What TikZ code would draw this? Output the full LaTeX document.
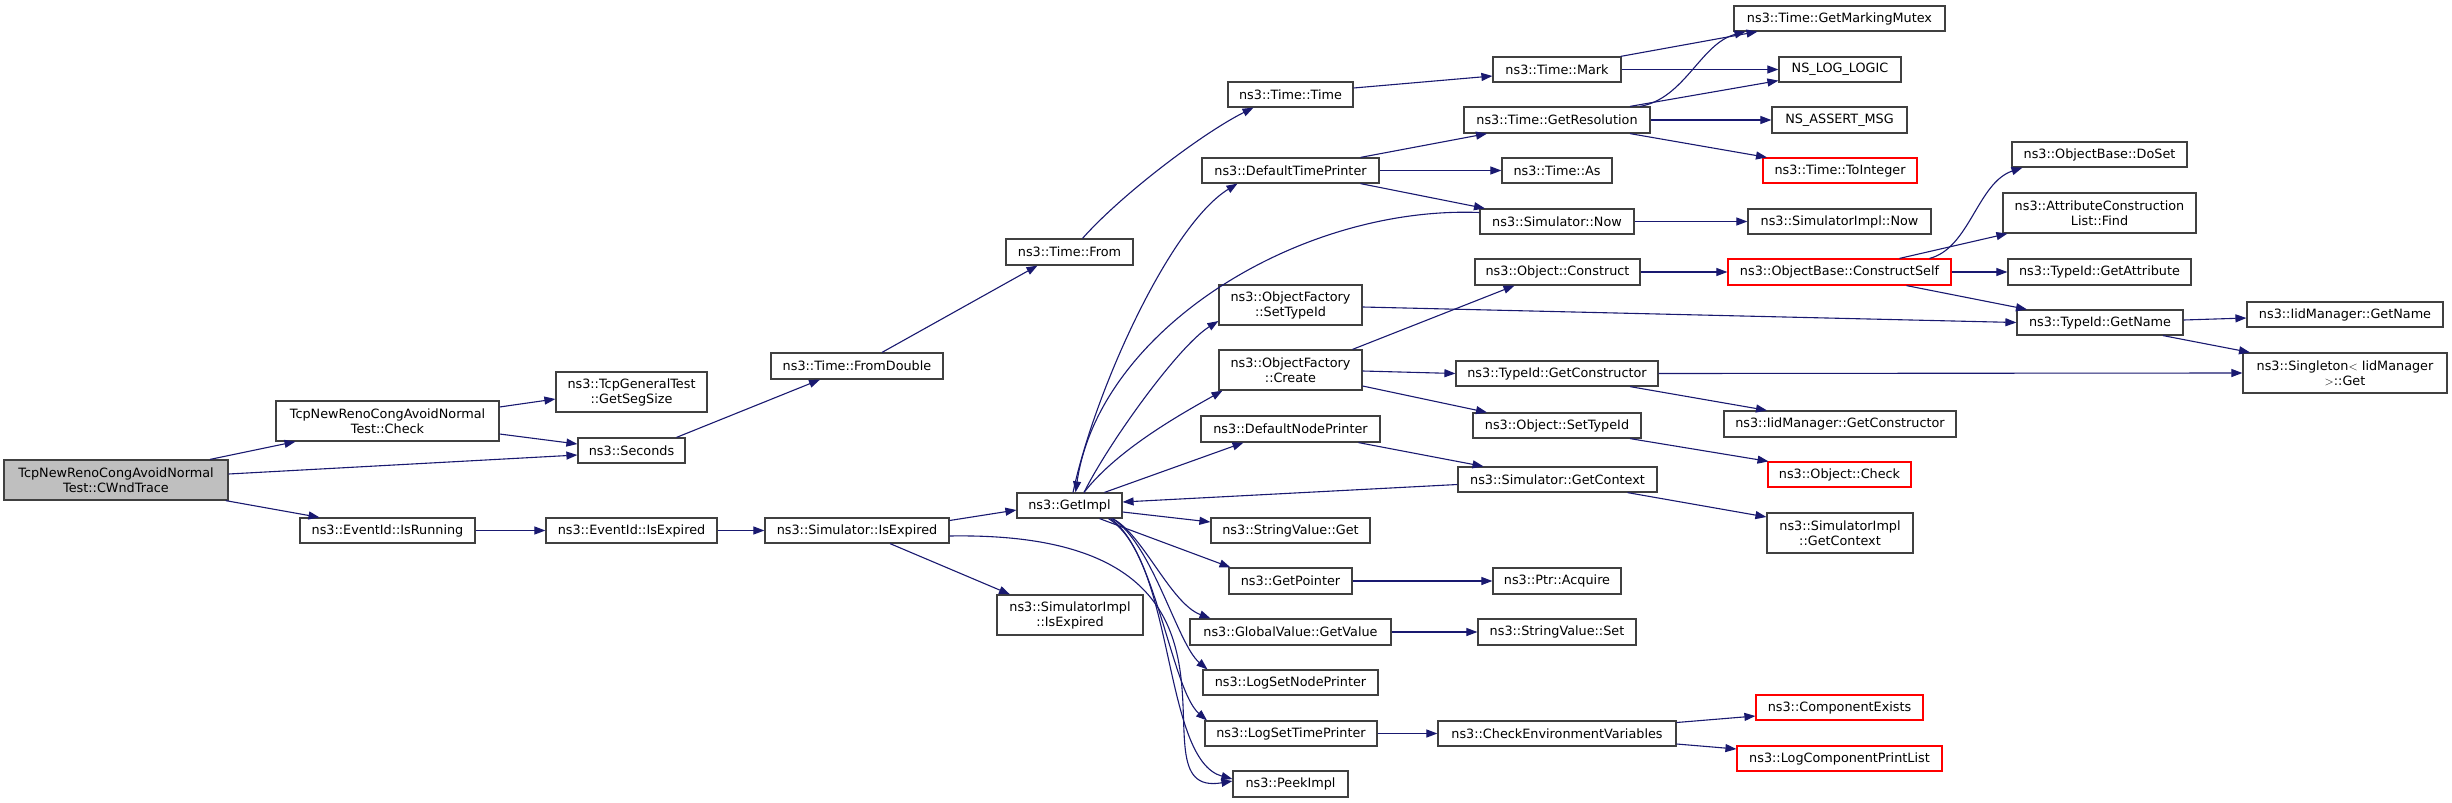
\documentclass[tikz,border=0pt]{standalone}
\usepackage{fontspec}
\newfontfamily\djv{DejaVu Sans}
\usetikzlibrary{arrows.meta}
\definecolor{edgeblue}{HTML}{191970}
\definecolor{boxline}{HTML}{404040}
\definecolor{rootfill}{HTML}{BFBFBF}
\definecolor{redline}{HTML}{FF0000}
\newcommand\gnode[7][]{\node[gbox,#1,minimum width={(#5-#3)*1pt},minimum height={(#6-#4)*1pt}] (#2) at ({(#3+#5)/2},{(#4+#6)/2}) {#7};}
\tikzset{
  gbox/.style={draw=boxline,fill=white,line width=1.2pt,inner sep=0pt,align=center,font=\djv\fontsize{12.8}{15}\selectfont},
  groot/.style={fill=rootfill},
  gred/.style={draw=redline},
  gedge/.style={draw=edgeblue,line width=1.1pt,-{Triangle[length=11pt,width=8pt]}}
}
\begin{document}
\begin{tikzpicture}[x=1pt,y=-1pt]
\useasboundingbox[fill=white] (0,0) rectangle (2452,803);
% nodes
\gnode[groot]{cwnd}{4}{460}{228}{500}{TcpNewRenoCongAvoidNormal\\Test::CWndTrace}
\gnode{check}{276}{401}{499}{441}{TcpNewRenoCongAvoidNormal\\Test::Check}
\gnode{segsize}{556}{372}{707}{412}{ns3::TcpGeneralTest\\::GetSegSize}
\gnode{seconds}{578}{438}{685}{463}{ns3::Seconds}
\gnode{isrunning}{300}{518}{475}{543}{ns3::EventId::IsRunning}
\gnode{evexp}{546}{518}{717}{543}{ns3::EventId::IsExpired}
\gnode{simexp}{765}{518}{949}{543}{ns3::Simulator::IsExpired}
\gnode{simimplexp}{997}{595}{1143}{635}{ns3::SimulatorImpl\\::IsExpired}
\gnode{fromdouble}{771}{353}{943}{379}{ns3::Time::FromDouble}
\gnode{from}{1006}{239}{1133}{265}{ns3::Time::From}
\gnode{ttime}{1228}{82}{1353}{107}{ns3::Time::Time}
\gnode{dtp}{1202}{158}{1379}{183}{ns3::DefaultTimePrinter}
\gnode{ofset}{1219}{285}{1362}{325}{ns3::ObjectFactory\\::SetTypeId}
\gnode{ofcreate}{1219}{350}{1362}{390}{ns3::ObjectFactory\\::Create}
\gnode{dnp}{1201}{416}{1380}{442}{ns3::DefaultNodePrinter}
\gnode{getimpl}{1017}{493}{1122}{518}{ns3::GetImpl}
\gnode{svget}{1211}{518}{1370}{543}{ns3::StringValue::Get}
\gnode{getptr}{1229}{568}{1352}{594}{ns3::GetPointer}
\gnode{gvget}{1190}{619}{1391}{645}{ns3::GlobalValue::GetValue}
\gnode{lsnp}{1203}{670}{1378}{695}{ns3::LogSetNodePrinter}
\gnode{lstp}{1205}{721}{1377}{746}{ns3::LogSetTimePrinter}
\gnode{peek}{1233}{771}{1348}{797}{ns3::PeekImpl}
\gnode{mark}{1493}{57}{1621}{82}{ns3::Time::Mark}
\gnode{getres}{1464}{107}{1650}{133}{ns3::Time::GetResolution}
\gnode{tas}{1502}{158}{1612}{183}{ns3::Time::As}
\gnode{simnow}{1480}{209}{1634}{234}{ns3::Simulator::Now}
\gnode{objcons}{1475}{259}{1640}{285}{ns3::Object::Construct}
\gnode{tgetctor}{1456}{361}{1658}{386}{ns3::TypeId::GetConstructor}
\gnode{objsettid}{1473}{413}{1641}{438}{ns3::Object::SetTypeId}
\gnode{simctx}{1458}{467}{1657}{492}{ns3::Simulator::GetContext}
\gnode{acquire}{1493}{568}{1621}{594}{ns3::Ptr::Acquire}
\gnode{svset}{1478}{619}{1636}{645}{ns3::StringValue::Set}
\gnode{checkenv}{1438}{721}{1676}{746}{ns3::CheckEnvironmentVariables}
\gnode{mutex}{1734}{6}{1945}{31}{ns3::Time::GetMarkingMutex}
\gnode{logic}{1779}{57}{1901}{82}{NS\_LOG\_LOGIC}
\gnode{assert}{1772}{107}{1907}{133}{NS\_ASSERT\_MSG}
\gnode[gred]{toint}{1763}{158}{1917}{183}{ns3::Time::ToInteger}
\gnode{implnow}{1748}{209}{1931}{234}{ns3::SimulatorImpl::Now}
\gnode[gred]{cself}{1728}{259}{1951}{285}{ns3::ObjectBase::ConstructSelf}
\gnode{iidctor}{1724}{411}{1956}{437}{ns3::IidManager::GetConstructor}
\gnode[gred]{ocheck}{1768}{462}{1911}{487}{ns3::Object::Check}
\gnode{implctx}{1767}{513}{1913}{553}{ns3::SimulatorImpl\\::GetContext}
\gnode[gred]{compex}{1756}{695}{1923}{720}{ns3::ComponentExists}
\gnode[gred]{lcpl}{1737}{746}{1942}{771}{ns3::LogComponentPrintList}
\gnode{doset}{2012}{142}{2187}{167}{ns3::ObjectBase::DoSet}
\gnode{find}{2003}{193}{2196}{233}{ns3::AttributeConstruction\\List::Find}
\gnode{getattr}{2008}{259}{2191}{285}{ns3::TypeId::GetAttribute}
\gnode{tgetname}{2017}{310}{2183}{335}{ns3::TypeId::GetName}
\gnode{iidname}{2247}{302}{2443}{327}{ns3::IidManager::GetName}
\gnode{singleton}{2243}{353}{2447}{393}{ns3::Singleton$<$ IidManager\\$>$::Get}
% edges
\draw[gedge] ([xshift=94pt]cwnd.north) -- ([xshift=-92pt]check.south);
\draw[gedge] ([yshift=6pt]cwnd.east) -- ([yshift=-4.5pt]seconds.west);
\draw[gedge] ([xshift=-3pt]cwnd.south east) -- ([xshift=-68pt]isrunning.north);
\draw[gedge] ([yshift=14pt]check.east) -- ([yshift=-7pt]segsize.west);
\draw[gedge] ([yshift=-13pt]check.east) -- ([yshift=6.5pt]seconds.west);
\draw[gedge] ([xshift=45pt]seconds.north) -- ([xshift=-37pt]fromdouble.south);
\draw[gedge] ([xshift=25pt]fromdouble.north) -- ([xshift=-32pt]from.south);
\draw[gedge] ([xshift=13pt]from.north) .. controls +(40,-45) and +(-50,25) .. ([xshift=-37pt]ttime.south);
\draw[gedge] ([yshift=6.5pt]ttime.east) -- ([yshift=-6.5pt]mark.west);
\draw[gedge] ([xshift=-1pt]mark.north east) -- ([xshift=-82pt]mutex.south);
\draw[gedge] (mark.east) -- (logic.west);
\draw[gedge] ([xshift=83pt]getres.north) .. controls +(45,-8) and +(-45,12) .. ([xshift=-94pt]mutex.south);
\draw[gedge] ([xshift=73pt]getres.north) -- ([yshift=2pt]logic.south west);
\draw[gedge] (getres.east) -- (assert.west);
\draw[gedge] ([xshift=73pt]getres.south) -- ([xshift=-73pt]toint.north);
\draw[gedge] ([xshift=70pt]dtp.north) -- ([xshift=-70pt]getres.south);
\draw[gedge] (dtp.east) -- (tas.west);
\draw[gedge] ([xshift=70pt]dtp.south) -- ([xshift=-72pt]simnow.north);
\draw[gedge] (simnow.east) -- (implnow.west);
\draw[gedge] ([yshift=9pt]simnow.west) .. controls +(-180,-7) and +(24,-163) .. ([xshift=6pt]getimpl.north);
\draw[gedge] ([xshift=3.5pt]getimpl.north) .. controls +(22,-103) and +(-67,41) .. ([xshift=-53pt]dtp.south);
\draw[gedge] ([xshift=14.5pt]getimpl.north) .. controls +(25,-50) and +(-40,25) .. ([yshift=-16pt]ofset.west);
\draw[gedge] ([xshift=14.5pt]getimpl.north) .. controls +(35,-45) and +(-35,20) .. ([xshift=-68pt]ofcreate.south);
\draw[gedge] ([xshift=35pt]getimpl.north) -- ([xshift=-47pt]dnp.south);
\draw[gedge] ([yshift=-5pt]simctx.west) -- ([yshift=3.5pt]getimpl.east);
\draw[gedge] ([yshift=-6.5pt]getimpl.east) -- ([yshift=8.5pt]svget.west);
\draw[gedge] ([xshift=30pt]getimpl.south) -- ([xshift=-60pt]getptr.north);
\draw[gedge] ([xshift=43pt]getimpl.south) .. controls +(30,15) and +(-40,-15) .. ([xshift=-80pt]gvget.north);
\draw[gedge] ([xshift=43pt]getimpl.south) .. controls +(40,25) and +(-30,-25) .. ([xshift=-83pt]lsnp.north);
\draw[gedge] ([xshift=41pt]getimpl.south) .. controls +(45,30) and +(-35,-30) .. ([xshift=-84pt]lstp.north);
\draw[gedge] ([xshift=39pt]getimpl.south) .. controls +(67,42) and +(-70,-19) .. ([yshift=5pt]peek.west);
\draw[gedge] ([yshift=-5.5pt]simexp.east) .. controls +(351,-6) and +(-113,19) .. ([yshift=3pt]peek.west);
\draw[gedge] ([yshift=10pt]simexp.east) -- ([yshift=-4.5pt]getimpl.west);
\draw[gedge] ([xshift=33pt]simexp.south) -- ([xshift=-60pt]simimplexp.north);
\draw[gedge] (isrunning.east) -- (evexp.west);
\draw[gedge] (evexp.east) -- (simexp.west);
\draw[gedge] ([yshift=-2pt]ofset.east) -- (tgetname.west);
\draw[gedge] ([xshift=62pt]ofcreate.north) -- ([xshift=-43pt]objcons.south);
\draw[gedge] ([yshift=-1pt]ofcreate.east) -- (tgetctor.west);
\draw[gedge] ([yshift=-16pt]ofcreate.east) -- ([xshift=-70pt]objsettid.north);
\draw[gedge] (objcons.east) -- (cself.west);
\draw[gedge] ([xshift=90pt]cself.north) .. controls +(40,-10) and +(-45,15) .. ([xshift=-77pt]doset.south);
\draw[gedge] ([xshift=60pt]cself.north) -- ([xshift=5pt]find.south west);
\draw[gedge] (cself.east) -- (getattr.west);
\draw[gedge] ([xshift=67pt]cself.south) -- ([xshift=-73pt]tgetname.north);
\draw[gedge] ([yshift=2.5pt]tgetname.east) -- ([yshift=-3.5pt]iidname.west);
\draw[gedge] ([xshift=63pt]tgetname.south) -- ([xshift=-95pt]singleton.north);
\draw[gedge] (tgetctor.east) -- (singleton.west);
\draw[gedge] ([xshift=73pt]tgetctor.south) -- ([xshift=-73pt]iidctor.north);
\draw[gedge] ([xshift=73pt]objsettid.south) -- ([xshift=-71pt]ocheck.north);
\draw[gedge] ([xshift=68pt]dnp.south) -- ([xshift=-74pt]simctx.north);
\draw[gedge] ([xshift=70pt]simctx.south) -- ([yshift=16pt]implctx.west);
\draw[gedge] (getptr.east) -- (acquire.west);
\draw[gedge] (gvget.east) -- (svset.west);
\draw[gedge] (lstp.east) -- (checkenv.west);
\draw[gedge] ([yshift=11pt]checkenv.east) -- ([yshift=-8.5pt]compex.west);
\draw[gedge] ([yshift=-10.5pt]checkenv.east) -- ([yshift=9.5pt]lcpl.west);
\end{tikzpicture}
\end{document}
